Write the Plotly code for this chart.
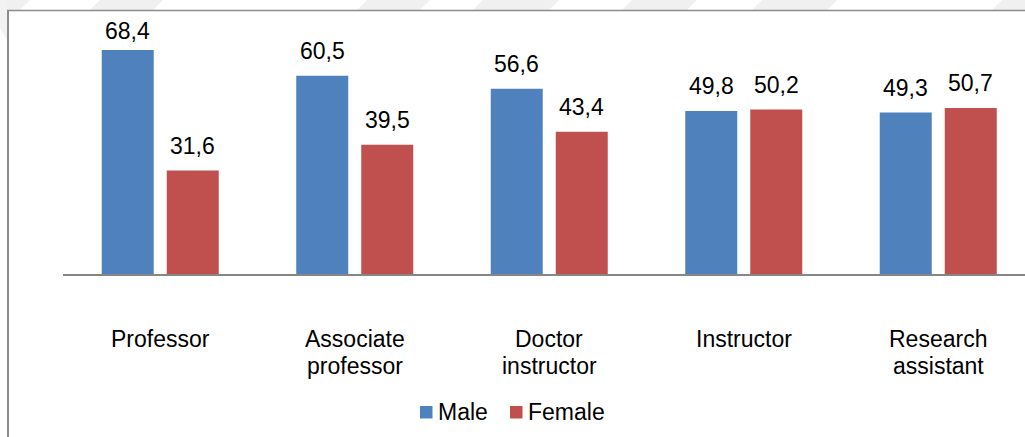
import plotly.graph_objects as go

# Academic staff by title and gender (%)
categories = ["Professor", "Associate\nprofessor", "Doctor\ninstructor", "Instructor", "Research\nassistant"]
male = [68.4, 60.5, 56.6, 49.8, 49.3]
female = [31.6, 39.5, 43.4, 50.2, 50.7]
series_names = ["Male", "Female"]

W, H = 1025, 437
ML, MT, MB = 63, 12, 163          # plot area: x 63..1025, y 12..274
Y_MAX = 80
PLOT_W = W - ML
PLOT_H = H - MT - MB
CAT_PX = 194.5                    # pixels per category slot
X_MAX = -0.5 + PLOT_W / CAT_PX
PX_PER_UNIT = PLOT_H / Y_MAX

BLUE = "#4F81BD"
RED = "#C0504D"
FONT = "Liberation Sans, Arial, sans-serif"
FS = 23

xs = list(range(len(categories)))
bar_w = 52 / CAT_PX
offsets = [-0.3008, 0.0334]
colors = [BLUE, RED]

fig = go.Figure()
for name, vals, off, col in zip(series_names, (male, female), offsets, colors):
    fig.add_trace(go.Bar(name=name, x=xs, y=vals, width=bar_w, offset=off,
                         marker=dict(color=col, line=dict(width=0)),
                         showlegend=False))


def px_x(px):
    return (px - ML) / PLOT_W


def px_y(py):
    return (MT + PLOT_H - py) / PLOT_H


annotations = []
# value labels above each bar (comma decimal separator)
for vals, off in zip((male, female), offsets):
    for i, v in enumerate(vals):
        top_px = MT + PLOT_H - v * PX_PER_UNIT
        shift = min(24.5, top_px - 30.5)
        annotations.append(dict(
            x=i + off + bar_w / 2, y=v, xref="x", yref="y",
            text=f"{v:.1f}".replace(".", ","), showarrow=False,
            yanchor="middle", yshift=shift,
            font=dict(family=FONT, size=FS, color="#000000")))

# category labels under the axis, one annotation per line
for i, lab in enumerate(categories):
    for j, line in enumerate(lab.split("\n")):
        base_px = 348.5 + 27.7 * j
        annotations.append(dict(
            x=i, y=px_y(base_px), xref="x", yref="paper",
            text=line, showarrow=False, yanchor="bottom", yshift=-5,
            font=dict(family=FONT, size=FS, color="#000000")))

shapes = []
# legend: colour square + series name
for name, col, sq_left in zip(series_names, colors, (420, 510)):
    shapes.append(dict(type="rect", xref="paper", yref="paper",
                       x0=px_x(sq_left), x1=px_x(sq_left + 12.5),
                       y0=px_y(406), y1=px_y(418.5),
                       fillcolor=col, line=dict(width=0)))
    annotations.append(dict(
        x=px_x(sq_left + 16), y=px_y(412), xref="paper", yref="paper",
        text=name, showarrow=False, xanchor="left", yanchor="middle",
        font=dict(family=FONT, size=FS, color="#000000")))

# faint diagonal stripes along the top edge
for x0, x1 in [(-8, 30), (100, 163), (367, 430), (483, 559), (632, 697), (762, 837), (1002, 1040)]:
    shapes.append(dict(
        type="path", xref="paper", yref="paper", layer="below", line=dict(width=0),
        fillcolor="#f0f0f0",
        path=(f"M{px_x(x0)},{px_y(0)} L{px_x(x1)},{px_y(0)} "
              f"L{px_x(x1 - 10)},{px_y(10)} L{px_x(x0 - 10)},{px_y(10)} Z")))
shapes.append(dict(
    type="path", xref="paper", yref="paper", layer="below", line=dict(width=0),
    fillcolor="#f2f2f2",
    path=f"M{px_x(0)},{px_y(0)} L{px_x(7)},{px_y(0)} L{px_x(7)},{px_y(40)} L{px_x(0)},{px_y(28)} Z"))
# chart frame (top and left edges)
shapes.append(dict(type="line", xref="paper", yref="paper",
                   x0=px_x(7), x1=px_x(1030), y0=px_y(10.5), y1=px_y(10.5),
                   line=dict(color="#8c8c8c", width=1.6)))
shapes.append(dict(type="line", xref="paper", yref="paper",
                   x0=px_x(8), x1=px_x(8), y0=px_y(10), y1=px_y(440),
                   line=dict(color="#8c8c8c", width=2)))

fig.update_layout(
    width=W, height=H,
    margin=dict(l=ML, r=0, t=MT, b=MB, pad=0),
    paper_bgcolor="#ffffff", plot_bgcolor="#ffffff",
    font=dict(family=FONT, size=FS, color="#000000"),
    xaxis=dict(range=[-0.5, X_MAX], showticklabels=False, ticks="",
               showgrid=False, zeroline=False, showline=True,
               linecolor="#868686", linewidth=2, fixedrange=True),
    yaxis=dict(range=[0, Y_MAX], showticklabels=False, ticks="",
               showgrid=False, zeroline=False, showline=False, fixedrange=True),
    showlegend=False,
    annotations=annotations,
    shapes=shapes,
)

fig.write_html("out.html")
